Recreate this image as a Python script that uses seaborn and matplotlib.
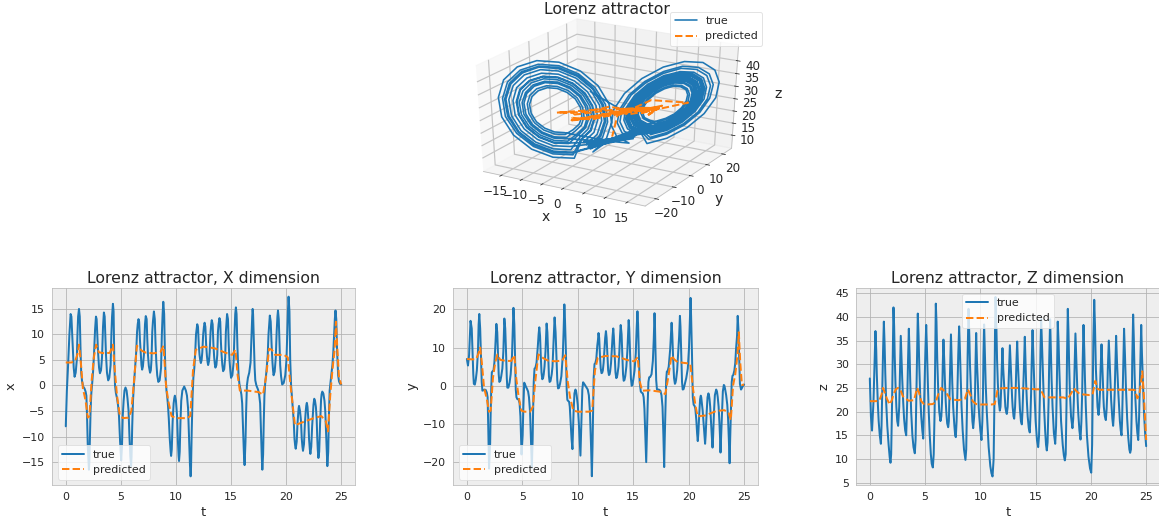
import matplotlib
matplotlib.use('Agg')
import matplotlib.pyplot as plt
import numpy as np
import pandas as pd
import seaborn as sns

# values, one line per oscillation
t_true = [
    0, .1, .2, .33, .44, .51, .58, .63, .72, .8, .9, 1.0,
    1.06, 1.12, 1.2, 1.27, 1.34, 1.4, 1.48, 1.58, 1.7, 1.8, 1.87,
    1.93, 2.0, 2.1, 2.14, 2.2, 2.25, 2.32, 2.4, 2.48, 2.56,
    2.66, 2.74, 2.8, 2.87, 2.93, 3.02, 3.1, 3.2, 3.29,
    3.38, 3.46, 3.53, 3.6, 3.65, 3.74, 3.85, 3.95, 4.07,
    4.14, 4.2, 4.28, 4.34, 4.41, 4.47, 4.55, 4.65, 4.75, 4.83,
    4.93, 5.03, 5.1, 5.17, 5.25, 5.33, 5.42, 5.52, 5.6, 5.7,
    5.78, 5.86, 5.93, 5.97, 6.03, 6.1, 6.18, 6.28, 6.39,
    6.47, 6.53, 6.6, 6.66, 6.73, 6.8, 6.87, 6.93, 7.0, 7.09,
    7.15, 7.19, 7.26, 7.34, 7.4, 7.46, 7.54, 7.65, 7.72, 7.78,
    7.85, 7.91, 8.0, 8.08, 8.15, 8.22, 8.3, 8.4, 8.52, 8.65,
    8.72, 8.79, 8.85, 8.93, 9.0, 9.06, 9.14, 9.22, 9.28, 9.35,
    9.44, 9.52, 9.56, 9.62, 9.7, 9.79, 9.85, 9.9, 10.0, 10.1,
    10.18, 10.24, 10.28, 10.34, 10.41, 10.48, 10.58, 10.75, 10.9, 11.0, 11.1,
    11.2, 11.27, 11.33, 11.37, 11.43, 11.51, 11.58, 11.67, 11.76,
    11.82, 11.87, 11.93, 12.0, 12.07, 12.14, 12.2, 12.26, 12.33, 12.39,
    12.47, 12.54, 12.6, 12.67, 12.74, 12.81, 12.87, 12.92, 13.0, 13.06,
    13.14, 13.2, 13.25, 13.33, 13.4, 13.47, 13.53, 13.58, 13.67, 13.75,
    13.81, 13.87, 13.95, 14.02, 14.08, 14.14, 14.21, 14.28, 14.38, 14.47,
    14.53, 14.59, 14.64, 14.72, 14.79, 14.86, 14.93, 15.0, 15.12, 15.23,
    15.31, 15.38, 15.44, 15.5, 15.58, 15.68, 15.76, 15.86, 15.94, 16.01,
    16.08, 16.17, 16.23, 16.31, 16.37, 16.44, 16.53, 16.65, 16.77,
    16.85, 16.92, 16.96, 17.0, 17.07, 17.14, 17.2, 17.3, 17.45, 17.55, 17.64,
    17.72, 17.79, 17.84, 17.91, 17.97, 18.03, 18.1, 18.2, 18.33,
    18.4, 18.46, 18.52, 18.6, 18.68, 18.76, 18.81, 18.86, 18.96, 19.06,
    19.14, 19.21, 19.26, 19.33, 19.4, 19.46, 19.54, 19.64, 19.78, 19.92, 20.03,
    20.11, 20.17, 20.22, 20.3, 20.37, 20.45, 20.52, 20.6, 20.69,
    20.76, 20.82, 20.87, 20.96, 21.03, 21.09, 21.13, 21.17, 21.26, 21.35,
    21.42, 21.48, 21.53, 21.62, 21.7, 21.78, 21.83, 21.88, 21.94, 22.01,
    22.08, 22.15, 22.2, 22.28, 22.36, 22.48, 22.55, 22.62, 22.7, 22.77,
    22.82, 22.87, 22.93, 23.0, 23.08, 23.17, 23.22, 23.28, 23.38, 23.48, 23.55,
    23.62, 23.69, 23.74, 23.82, 23.88, 23.95, 24.02, 24.12, 24.2, 24.28,
    24.36, 24.42, 24.48, 24.55, 24.62, 24.72, 24.8, 24.9, 25,
]
x_true = [
    -8, -1, 3.5, 10, 14, 13.5, 10, 7, 3.5, 1.7, 2.5, 5,
    10, 13.5, 15, 13.5, 7, 2.5, 0.8, -0.2, -0.6, -1.2, -2,
    -6, -12, -16.5, -15, -9, -5, -1.5, 0.5, 2.8, 6,
    11, 13.5, 13, 9.5, 6.5, 3.5, 2.4, 3, 5.5,
    11.5, 14.3, 13.5, 9, 6, 2.5, 1, 1.5, 4,
    10, 13.5, 16, 14.5, 4, 0, -1.5, -2.5, -4, -6,
    -11, -14.7, -12, -6, -3, -1, -0.4, -1, -2.5, -5,
    -10, -14, -15.8, -14, -8, -3, 0, 3, 6.5,
    10.5, 12, 13, 12.5, 9, 6.5, 4, 3.1, 3.7, 6,
    10, 12, 13.6, 13, 9, 6, 3.8, 2.5, 3, 5,
    10.5, 12.5, 14.5, 13, 8, 4.5, 2, 0.7, 1, 3.5,
    10, 14, 16.4, 14, 6, 1.5, -1, -2.5, -4, -6.5,
    -10.5, -13, -13.8, -12.5, -7, -3.5, -2.5, -2, -3, -6,
    -11, -13.8, -14.8, -13, -7, -3, -1, -0.2, -1, -2, -4.5,
    -11, -15.5, -17.8, -16, -9, -2, 1.5, 3.5, 7,
    10, 11, 12, 11.5, 8, 6, 5, 4.4, 5, 6.5,
    10, 11.5, 12.3, 11.5, 8, 5.8, 4.6, 4, 4.8, 6.5,
    10.5, 12, 12.8, 12, 8, 5.5, 4.2, 3.5, 4, 6,
    10.5, 12, 13.2, 12.5, 8.5, 6, 4, 2.8, 3.2, 5.5,
    10.5, 12.5, 14, 13, 8, 5, 3, 1.5, 2, 4.5,
    10, 14, 15.3, 14, 7.5, 2, 0.3, -0.8, -1.8, -3.5,
    -8, -13.5, -15.6, -11, -5, 0, 1.5, 2.5, 4.5,
    9.5, 13.5, 15, 14, 9, 3.5, 1, 0, -0.8, -1.8, -3.5,
    -9, -14, -16.5, -13.5, -7, -2, 0.5, 2.5, 6,
    10, 12, 13.7, 12.5, 8, 4.5, 3, 2, 2.7, 5.5,
    10.5, 13.5, 14.7, 13, 8, 4, 1.8, 0.2, 0.5, 2, 5,
    11, 15, 17.4, 14.5, 5, 0, -2, -4, -7,
    -10.5, -11.8, -12.4, -11, -7.5, -5.5, -4.5, -4, -5, -7,
    -10.5, -12, -12.8, -11.5, -7.5, -5, -3.9, -3.4, -4.2, -6.5,
    -10.5, -12.5, -13.4, -12, -8, -3.8, -2.6, -3, -4.2, -6.5,
    -10, -12.5, -14.2, -13, -7.5, -2.8, -1.7, -1.2, -1.6, -3, -5,
    -9, -13.5, -15.8, -13, -6, -1, 0.5, 2.5, 4, 6.5,
    10, 13, 14.7, 13, 7, 2, 0.8, 0.3, 0.2,
]
y_true = [
    7, 5.3, 8, 17, 15, 9, 3, 0.5, 0.3, 1.5, 4, 9,
    16, 18.8, 15, 8, 1, -1.3, -1.2, -1, -1.1, -1.8, -3,
    -11, -21.7, -15, -8, -0.5, 3.5, 3.8, 4, 6, 10,
    16.2, 14, 9, 3, 1, 1.3, 2.5, 4.5, 9,
    17.6, 15, 9, 2, -0.5, -0.5, 0.8, 3, 8,
    15, 20.4, 16, 8, -1, -3, -3.5, -3.5, -4.5, -8,
    -18, -13, -5, 0.8, 0.3, -0.3, -0.8, -1.5, -3, -7,
    -14, -21.5, -14, -7, 1, 4.5, 4.7, 6, 10,
    13.5, 15.3, 13, 8, 3.5, 1.7, 2, 3, 5, 9,
    13, 16.3, 14, 7, 2.5, 1, 1.2, 3, 5, 9,
    13, 17.9, 14, 7, 1.5, -0.7, -0.6, 0.5, 2.5, 8,
    14, 21.3, 17, 9, -1, -3.7, -4, -4.2, -5.5, -9,
    -14, -16.6, -13, -7, -2, -1, -1.5, -2.5, -5, -10,
    -15, -18.3, -14, -7, -1, 0.9, 0.5, -0.3, -1, -2.5, -7,
    -16, -23.7, -16, -8, 2, 5.7, 5.9, 7, 10.5,
    12, 13.8, 12.5, 8, 4.5, 3.3, 3.4, 4, 6, 9,
    12.5, 14.3, 12.5, 8, 4, 2.8, 3, 3.8, 6, 9,
    13, 15, 13, 8, 3.5, 2, 2.2, 3, 5, 9,
    13, 15.9, 13.5, 8, 3, 1.3, 1.5, 2.5, 5, 9,
    13, 17.2, 15, 8, 2, 0, 0.3, 1.5, 4, 8.5,
    15, 19.5, 16, 9, 1, -1.5, -1.8, -2, -3, -6,
    -12, -20, -13, -4, 1, 2.2, 2.3, 3, 6.5,
    12, 19, 16, 10, 1.5, -1, -1, -1, -1.3, -2.5, -5.5,
    -13, -21.3, -14, -6, 1.5, 3.7, 3.8, 5, 9.5,
    13, 16.5, 13.5, 7, 2, 0.5, 0.8, 1.5, 4, 9,
    13, 18.3, 15.5, 8, 1, -1, -0.9, 0.3, 2, 4.5, 10,
    17, 23, 18, 8, -3, -5, -5.2, -6, -9,
    -12.5, -14.5, -12.5, -7, -3.5, -2.6, -3, -4, -6.5, -10,
    -12.5, -15.2, -13, -7, -3, -2, -2.5, -3.5, -5.5, -9.5,
    -13, -16.2, -13.5, -7, -2.5, -1, -1.5, -3, -5.5, -9.5,
    -13, -17.5, -13, -7, -1.5, 0.2, 0, -0.8, -2.5, -5, -8.5,
    -14, -20.3, -14, -6, 1, 2.6, 2.8, 4, 6, 10,
    13, 18.3, 15, 8, 0.5, -1, -0.6, 0, 0.3,
]
z_true = [
    27, 19, 16, 22, 31, 37, 33, 28, 22, 18, 15, 13.2,
    17, 24, 33, 39, 34, 28, 22, 17, 13, 10.3, 9.2,
    11, 20, 36, 42, 38, 32, 26, 21, 18, 17,
    21, 30, 36, 31, 27, 22, 18.5, 16, 15,
    22, 31, 37.5, 32, 27, 20, 15, 12.5, 11.2,
    14, 22, 34, 40.7, 36, 30, 24, 19, 16, 14.3,
    24, 33, 38.3, 33, 26, 20, 15, 11, 9, 8.2,
    11, 20, 35, 42.8, 39, 31, 25, 20, 18,
    19, 22, 30, 35.2, 31, 26, 22, 19.5, 17.5, 16.7,
    18, 22, 30, 36.3, 31, 26, 21, 17, 15, 14.6,
    18, 23, 32, 38, 33, 27, 21, 16, 12, 9.8,
    12, 21, 32, 41.7, 36, 30, 25, 21, 18, 16.5,
    19, 24, 30, 36.6, 30, 25, 21, 19, 16, 14,
    18, 24, 32, 38.4, 32, 26, 20, 12.5, 8.5, 7, 6.3,
    10, 22, 38, 44.2, 40, 31, 26, 22, 20.2,
    21, 24, 29, 33.4, 29, 26, 23, 21, 20, 19.5,
    21, 25, 29.5, 34, 30, 26, 23, 21, 19, 18.5,
    21, 25, 29.5, 34.8, 30, 26, 23, 20.5, 18, 17.3,
    20, 24, 30, 35.8, 31, 26, 22, 19, 16.5, 15.6,
    19, 24, 30, 37.2, 32, 27, 22, 18, 14, 12.5,
    15, 23, 33, 39.5, 34, 27, 21, 16, 13, 11.8,
    13.5, 22, 31, 39.5, 34, 27, 21, 15.5, 13.2,
    17, 26, 33, 39, 35, 29, 25, 18, 13, 10.8, 9.7,
    11, 21, 32, 41.7, 37, 30, 24, 19, 16.5,
    18.5, 22.5, 29, 36.5, 31, 25, 22, 19.5, 16, 14.1,
    18, 24, 31, 38.3, 33, 27, 21, 15, 10.5, 8, 7.1,
    13, 24, 35, 43.6, 38, 29, 25, 21, 19.3,
    21, 24, 28.5, 34.2, 30, 26, 23, 21, 19, 18.2,
    20.5, 24, 29, 35, 30, 25.5, 22.5, 20.5, 18.5, 17,
    19.5, 24, 29, 36, 30.5, 24, 21, 18, 16, 15,
    18, 23, 30, 37.5, 32, 25, 22, 18.5, 14.5, 12, 11.3,
    12, 20, 31, 40.5, 35.5, 28, 23, 18, 15.5, 14,
    19, 25, 32, 38.3, 32, 25, 20, 15.5, 12.7,
]

t_pred = [0, .5, .85, 1.05, 1.2, 1.35, 1.55, 1.8, 2.0, 2.15, 2.35, 2.55, 2.75, 3.0, 3.5, 4.0,
          4.28, 4.45, 4.65, 4.9, 5.2, 5.7, 5.95, 6.2, 6.45, 6.9, 7.3, 8.0, 8.6, 8.87, 9.1, 9.3,
          9.6, 10, 11, 11.3, 11.55, 11.8, 12.5, 13.5, 14.5, 15.1, 15.4, 15.6, 15.8, 16.5, 17.5, 17.9,
          18.2, 18.45, 18.7, 19, 19.8, 20.15, 20.4, 20.6, 20.8, 21.5, 22.5, 23.2, 23.6, 23.8,
          24.0, 24.2, 24.4, 24.52, 24.65, 24.8, 25]
x_pred = [4.5, 4.5, 4.8, 6, 8, 5, -0.5, -3, -6.3, -6, 1, 5.5, 8, 6.5, 6.3, 6.4,
          8, 3, -2, -5.8, -6.4, -6.3, -5, 1, 7.8, 6.8, 6.4, 6.3, 6.6, 7.8, 0, -3,
          -6, -6.4, -6.4, -6, 3, 7, 7.6, 7.3, 6.4, 6, 7, 2, -1, -1, -1.3, -1.8,
          2, 7.2, 7, 6, 6, 5.5, 0, -4, -7.8, -7.2, -6.4, -6, -7, -9,
          -2, 3, 7, 12.5, 7, 1.5, 0.2]
y_pred = [7, 6.9, 7, 8.5, 10, 6, -0.5, -3.5, -6.8, -6.5, 2, 6, 8.2, 6.8, 6.5, 6.5,
          8, 2, -2.5, -6.5, -6.8, -6.8, -5.5, 2, 8.2, 7.2, 6.6, 6.4, 6.6, 8, 1, -3,
          -6.5, -6.8, -6.8, -6.5, 4, 7.3, 7.8, 7.7, 6.7, 6.4, 7.5, 1, -1.3, -1.2, -1.6, -2.2,
          3, 7.9, 6.9, 6.2, 5.9, 5.7, -1, -5, -8, -7.8, -6.6, -6.4, -7, -9,
          0, 3, 8, 14, 6, 0.2, 0.3]
z_pred = [22.2, 22.2, 22.3, 23.5, 25, 24, 22.7, 21.5, 22.5, 23.7, 24.7, 25, 24.7, 23.2, 22.3, 22.4,
          25, 24, 22.2, 21.6, 21.5, 21.6, 22, 23.7, 25, 24, 22.6, 22.4, 22.7, 24.7, 23.5, 22.2,
          21.6, 21.5, 21.5, 21.6, 24.5, 24.9, 25, 25, 24.8, 24.7, 24.7, 24, 23, 23, 23, 22.7,
          23.8, 24.9, 24.3, 23.7, 23.5, 23.6, 26.5, 24.8, 24.6, 24.6, 24.6, 24.6, 24.6, 24.6,
          24.5, 22.8, 23.8, 26, 28.5, 23, 14]

# the 3d picture is a denser trace, one line per turn around a lobe
x_orbit = [
    -8,
    6.1, 8, 10, 11.9, 13.2, 13.8, 13.7, 12.8, 11.3, 9.4, 7.4, 5.5, 4.2, 3.6, 3.7, 4.6,
    5.7, 7.9, 10.3, 12.4, 14, 14.7, 14.6, 13.5, 11.7, 9.5, 7.1, 5, 3.4, 2.7, 2.8, 3.9,
    0.4,
    -5, -7.7, -10.7, -13.3, -15.3, -16.2, -16, -14.7, -12.4, -9.7, -6.7, -4.1, -2.1, -1.2, -1.4, -2.7,
    -0.2,
    6.3, 8.1, 9.9, 11.6, 12.8, 13.4, 13.3, 12.5, 11.1, 9.3, 7.5, 5.8, 4.6, 4, 4.1, 4.9,
    6, 8, 10.1, 12, 13.4, 14.1, 13.9, 13, 11.4, 9.4, 7.3, 5.4, 4, 3.3, 3.5, 4.4,
    5.3, 7.8, 10.5, 13, 14.8, 15.6, 15.4, 14.2, 12.1, 9.6, 6.9, 4.4, 2.6, 1.8, 2, 3.2,
    0.3,
    -5.8, -8, -10.2, -12.2, -13.7, -14.4, -14.3, -13.3, -11.6, -9.4, -7.2, -5.2, -3.7, -3, -3.1, -4.1,
    -4.8, -7.7, -10.7, -13.5, -15.6, -16.5, -16.3, -14.9, -12.6, -9.7, -6.7, -3.9, -1.8, -0.9, -1.1, -2.5,
    0.2,
    6.6, 8.1, 9.8, 11.4, 12.5, 13, 12.9, 12.1, 10.8, 9.3, 7.6, 6, 4.9, 4.4, 4.5, 5.3,
    6.3, 8.1, 10, 11.7, 12.9, 13.5, 13.4, 12.5, 11.1, 9.3, 7.4, 5.7, 4.5, 3.9, 4, 4.9,
    5.9, 8, 10.2, 12.2, 13.7, 14.3, 14.2, 13.2, 11.5, 9.4, 7.2, 5.2, 3.7, 3.1, 3.2, 4.2,
    5, 7.7, 10.6, 13.2, 15.1, 16, 15.8, 14.5, 12.4, 9.7, 6.8, 4.2, 2.3, 1.4, 1.6, 2.9,
    0.3,
    -6.2, -8.1, -10, -11.8, -13.1, -13.7, -13.5, -12.7, -11.2, -9.3, -7.4, -5.6, -4.3, -3.7, -3.9, -4.7,
    -5.8, -7.9, -10.2, -12.3, -13.8, -14.5, -14.4, -13.3, -11.6, -9.5, -7.2, -5.1, -3.6, -2.9, -3, -4.1,
    -4.5, -7.6, -10.9, -13.9, -16.1, -17.1, -16.9, -15.4, -12.9, -9.8, -6.5, -3.5, -1.3, -0.3, -0.5, -2,
    -0.1,
    7, 8.2, 9.6, 10.8, 11.7, 12.1, 12.1, 11.4, 10.4, 9.2, 7.8, 6.6, 5.7, 5.3, 5.3, 6,
    6.9, 8.2, 9.7, 11, 12, 12.4, 12.3, 11.6, 10.5, 9.2, 7.7, 6.4, 5.4, 5, 5.1, 5.8,
    6.6, 8.2, 9.8, 11.2, 12.3, 12.8, 12.7, 12, 10.8, 9.2, 7.6, 6.2, 5.1, 4.6, 4.7, 5.4,
    6.4, 8.1, 9.9, 11.5, 12.7, 13.2, 13.1, 12.3, 11, 9.3, 7.5, 5.9, 4.7, 4.2, 4.3, 5.1,
    6.1, 8, 10.1, 11.9, 13.3, 13.9, 13.8, 12.9, 11.3, 9.4, 7.3, 5.5, 4.1, 3.5, 3.6, 4.5,
    5.5, 7.9, 10.4, 12.6, 14.3, 15, 14.9, 13.7, 11.9, 9.5, 7, 4.8, 3.1, 2.4, 2.5, 3.7,
    0.4,
    -5.5, -7.9, -10.4, -12.6, -14.3, -15, -14.9, -13.7, -11.9, -9.5, -7, -4.8, -3.1, -2.4, -2.5, -3.7,
    -0.3,
    5.8, 7.9, 10.2, 12.3, 13.9, 14.6, 14.4, 13.4, 11.6, 9.5, 7.2, 5.1, 3.5, 2.8, 3, 4,
    0.3,
    -5, -7.7, -10.6, -13.2, -15.1, -16, -15.8, -14.5, -12.4, -9.7, -6.8, -4.2, -2.3, -1.4, -1.6, -2.9,
    0.2,
    6.3, 8.1, 10, 11.7, 13, 13.6, 13.5, 12.6, 11.1, 9.3, 7.4, 5.7, 4.4, 3.8, 3.9, 4.8,
    5.8, 8, 10.2, 12.2, 13.7, 14.4, 14.3, 13.3, 11.6, 9.4, 7.2, 5.2, 3.7, 3, 3.1, 4.1,
    4.6, 7.6, 10.9, 13.8, 16, 16.9, 16.7, 15.3, 12.8, 9.8, 6.5, 3.6, 1.4, 0.5, 0.7, 2.1,
    0.1,
    -6.8, -8.2, -9.7, -11.1, -12.1, -12.6, -12.5, -11.8, -10.6, -9.2, -7.7, -6.3, -5.3, -4.8, -4.9, -5.6,
    -6.6, -8.1, -9.8, -11.3, -12.4, -12.9, -12.8, -12.1, -10.8, -9.3, -7.6, -6.1, -5, -4.5, -4.6, -5.3,
    -6.3, -8.1, -9.9, -11.6, -12.8, -13.4, -13.3, -12.5, -11.1, -9.3, -7.5, -5.8, -4.6, -4, -4.1, -4.9,
    -6, -8, -10.1, -12, -13.4, -14.1, -13.9, -13, -11.4, -9.4, -7.3, -5.4, -4, -3.3, -3.5, -4.4,
    -5.3, -7.8, -10.5, -13, -14.8, -15.6, -15.4, -14.2, -12.1, -9.6, -6.9, -4.4, -2.6, -1.8, -2, -3.2,
    -0.2,
    5.8, 8, 10.2, 12.2, 13.7, 14.4, 14.3, 13.3, 11.6, 9.4, 7.2, 5.2, 3.7, 3, 3.1, 4.1,
    0.2,
]
y_orbit = [
    7,
    10, 12.8, 15.2, 16.8, 17.3, 16.8, 15.2, 12.8, 10, 7.2, 4.8, 3.2, 2.7, 3.2, 4.8, 7.2,
    10, 13.3, 16.1, 18, 18.6, 18, 16.1, 13.3, 10, 6.7, 3.9, 2, 1.4, 2, 3.9, 6.7,
    0.2,
    -10, -14.1, -17.6, -19.9, -20.7, -19.9, -17.6, -14.1, -10, -5.9, -2.4, -0.1, 0.7, -0.1, -2.4, -5.9,
    0.1,
    10, 12.6, 14.8, 16.2, 16.7, 16.2, 14.8, 12.6, 10, 7.4, 5.2, 3.8, 3.3, 3.8, 5.2, 7.4,
    10, 12.9, 15.4, 17.1, 17.7, 17.1, 15.4, 12.9, 10, 7.1, 4.6, 2.9, 2.3, 2.9, 4.6, 7.1,
    10, 13.8, 17, 19.1, 19.8, 19.1, 17, 13.8, 10, 6.2, 3, 0.9, 0.2, 0.9, 3, 6.2,
    0.2,
    -10, -13.1, -15.8, -17.5, -18.2, -17.5, -15.8, -13.1, -10, -6.9, -4.2, -2.5, -1.8, -2.5, -4.2, -6.9,
    -10, -14.3, -17.9, -20.3, -21.2, -20.3, -17.9, -14.3, -10, -5.7, -2.1, 0.3, 1.2, 0.3, -2.1, -5.7,
    0.1,
    10, 12.3, 14.3, 15.7, 16.1, 15.7, 14.3, 12.3, 10, 7.7, 5.7, 4.3, 3.9, 4.3, 5.7, 7.7,
    10, 12.6, 14.8, 16.3, 16.8, 16.3, 14.8, 12.6, 10, 7.4, 5.2, 3.7, 3.2, 3.7, 5.2, 7.4,
    10, 13.1, 15.7, 17.4, 18, 17.4, 15.7, 13.1, 10, 6.9, 4.3, 2.6, 2, 2.6, 4.3, 6.9,
    10, 14, 17.4, 19.7, 20.4, 19.7, 17.4, 14, 10, 6, 2.6, 0.3, -0.4, 0.3, 2.6, 6,
    0.2,
    -10, -12.7, -15, -16.5, -17.1, -16.5, -15, -12.7, -10, -7.3, -5, -3.5, -2.9, -3.5, -5, -7.3,
    -10, -13.2, -15.9, -17.7, -18.3, -17.7, -15.9, -13.2, -10, -6.8, -4.1, -2.3, -1.7, -2.3, -4.1, -6.8,
    -10, -14.6, -18.5, -21.1, -22, -21.1, -18.5, -14.6, -10, -5.4, -1.5, 1.1, 2, 1.1, -1.5, -5.4,
    0.1,
    10, 11.9, 13.5, 14.6, 14.9, 14.6, 13.5, 11.9, 10, 8.1, 6.5, 5.4, 5.1, 5.4, 6.5, 8.1,
    10, 12, 13.7, 14.9, 15.3, 14.9, 13.7, 12, 10, 8, 6.3, 5.1, 4.7, 5.1, 6.3, 8,
    10, 12.3, 14.2, 15.4, 15.9, 15.4, 14.2, 12.3, 10, 7.7, 5.8, 4.6, 4.1, 4.6, 5.8, 7.7,
    10, 12.5, 14.6, 16, 16.5, 16, 14.6, 12.5, 10, 7.5, 5.4, 4, 3.5, 4, 5.4, 7.5,
    10, 12.9, 15.3, 16.9, 17.4, 16.9, 15.3, 12.9, 10, 7.1, 4.7, 3.1, 2.6, 3.1, 4.7, 7.1,
    10, 13.5, 16.4, 18.3, 19, 18.3, 16.4, 13.5, 10, 6.5, 3.6, 1.7, 1, 1.7, 3.6, 6.5,
    0.2,
    -10, -13.5, -16.4, -18.3, -19, -18.3, -16.4, -13.5, -10, -6.5, -3.6, -1.7, -1, -1.7, -3.6, -6.5,
    0.1,
    10, 13.2, 16, 17.8, 18.4, 17.8, 16, 13.2, 10, 6.8, 4, 2.2, 1.6, 2.2, 4, 6.8,
    0.1,
    -10, -14, -17.4, -19.7, -20.4, -19.7, -17.4, -14, -10, -6, -2.6, -0.3, 0.4, -0.3, -2.6, -6,
    0.2,
    10, 12.7, 14.9, 16.4, 17, 16.4, 14.9, 12.7, 10, 7.3, 5.1, 3.6, 3, 3.6, 5.1, 7.3,
    10, 13.1, 15.8, 17.5, 18.2, 17.5, 15.8, 13.1, 10, 6.9, 4.2, 2.5, 1.8, 2.5, 4.2, 6.9,
    10, 14.5, 18.3, 20.9, 21.8, 20.9, 18.3, 14.5, 10, 5.5, 1.7, -0.9, -1.8, -0.9, 1.7, 5.5,
    0.2,
    -10, -12.1, -13.9, -15.1, -15.5, -15.1, -13.9, -12.1, -10, -7.9, -6.1, -4.9, -4.5, -4.9, -6.1, -7.9,
    -10, -12.3, -14.3, -15.6, -16, -15.6, -14.3, -12.3, -10, -7.7, -5.7, -4.4, -4, -4.4, -5.7, -7.7,
    -10, -12.6, -14.8, -16.2, -16.7, -16.2, -14.8, -12.6, -10, -7.4, -5.2, -3.8, -3.3, -3.8, -5.2, -7.4,
    -10, -12.9, -15.4, -17.1, -17.7, -17.1, -15.4, -12.9, -10, -7.1, -4.6, -2.9, -2.3, -2.9, -4.6, -7.1,
    -10, -13.8, -17, -19.1, -19.8, -19.1, -17, -13.8, -10, -6.2, -3, -0.9, -0.2, -0.9, -3, -6.2,
    0.1,
    10, 13.1, 15.8, 17.5, 18.2, 17.5, 15.8, 13.1, 10, 6.9, 4.2, 2.5, 1.8, 2.5, 4.2, 6.9,
    0.3,
]
z_orbit = [
    27,
    15, 15.9, 18.3, 21.8, 26, 30.2, 33.7, 36.1, 37, 36.1, 33.7, 30.2, 26, 21.8, 18.3, 15.9,
    13, 14, 16.9, 21, 26, 31, 35.1, 38, 39, 38, 35.1, 31, 26, 21, 16.9, 14,
    12,
    10, 11.2, 14.7, 19.9, 26, 32.1, 37.3, 40.8, 42, 40.8, 37.3, 32.1, 26, 19.9, 14.7, 11.2,
    13,
    15.9, 16.7, 18.9, 22.1, 26, 29.9, 33.1, 35.3, 36.1, 35.3, 33.1, 29.9, 26, 22.1, 18.9, 16.7,
    14.5, 15.4, 17.9, 21.6, 26, 30.4, 34.1, 36.6, 37.5, 36.6, 34.1, 30.4, 26, 21.6, 17.9, 15.4,
    11.2, 12.4, 15.6, 20.3, 26, 31.7, 36.4, 39.6, 40.8, 39.6, 36.4, 31.7, 26, 20.3, 15.6, 12.4,
    12,
    13.8, 14.7, 17.4, 21.3, 26, 30.7, 34.6, 37.3, 38.2, 37.3, 34.6, 30.7, 26, 21.3, 17.4, 14.7,
    9.3, 10.6, 14.2, 19.6, 26, 32.4, 37.8, 41.4, 42.7, 41.4, 37.8, 32.4, 26, 19.6, 14.2, 10.6,
    13,
    16.8, 17.5, 19.5, 22.5, 26, 29.5, 32.5, 34.5, 35.2, 34.5, 32.5, 29.5, 26, 22.5, 19.5, 17.5,
    15.7, 16.5, 18.8, 22.1, 26, 29.9, 33.2, 35.5, 36.3, 35.5, 33.2, 29.9, 26, 22.1, 18.8, 16.5,
    13.9, 14.9, 17.5, 21.4, 26, 30.6, 34.5, 37.1, 38.1, 37.1, 34.5, 30.6, 26, 21.4, 17.5, 14.9,
    10.3, 11.6, 15, 20, 26, 32, 37, 40.4, 41.7, 40.4, 37, 32, 26, 20, 15, 11.6,
    12,
    15.4, 16.2, 18.5, 21.9, 26, 30.1, 33.5, 35.8, 36.6, 35.8, 33.5, 30.1, 26, 21.9, 18.5, 16.2,
    13.6, 14.5, 17.2, 21.2, 26, 30.8, 34.8, 37.5, 38.4, 37.5, 34.8, 30.8, 26, 21.2, 17.2, 14.5,
    8, 9.4, 13.3, 19.1, 26, 32.9, 38.7, 42.6, 44, 42.6, 38.7, 32.9, 26, 19.1, 13.3, 9.4,
    13,
    18.6, 19.2, 20.8, 23.2, 26, 28.8, 31.2, 32.8, 33.4, 32.8, 31.2, 28.8, 26, 23.2, 20.8, 19.2,
    18.1, 18.7, 20.4, 23, 26, 29, 31.6, 33.3, 33.9, 33.3, 31.6, 29, 26, 23, 20.4, 18.7,
    17.2, 17.9, 19.8, 22.6, 26, 29.4, 32.2, 34.1, 34.8, 34.1, 32.2, 29.4, 26, 22.6, 19.8, 17.9,
    16.3, 17, 19.1, 22.3, 26, 29.7, 32.9, 35, 35.7, 35, 32.9, 29.7, 26, 22.3, 19.1, 17,
    14.8, 15.7, 18.1, 21.7, 26, 30.3, 33.9, 36.3, 37.2, 36.3, 33.9, 30.3, 26, 21.7, 18.1, 15.7,
    12.5, 13.5, 16.5, 20.8, 26, 31.2, 35.5, 38.5, 39.5, 38.5, 35.5, 31.2, 26, 20.8, 16.5, 13.5,
    12,
    12.5, 13.5, 16.5, 20.8, 26, 31.2, 35.5, 38.5, 39.5, 38.5, 35.5, 31.2, 26, 20.8, 16.5, 13.5,
    13,
    13.4, 14.4, 17.1, 21.2, 26, 30.8, 34.9, 37.6, 38.6, 37.6, 34.9, 30.8, 26, 21.2, 17.1, 14.4,
    12,
    10.3, 11.6, 15, 20, 26, 32, 37, 40.4, 41.7, 40.4, 37, 32, 26, 20, 15, 11.6,
    13,
    15.6, 16.4, 18.6, 22, 26, 30, 33.4, 35.6, 36.4, 35.6, 33.4, 30, 26, 22, 18.6, 16.4,
    13.8, 14.7, 17.4, 21.3, 26, 30.7, 34.6, 37.3, 38.2, 37.3, 34.6, 30.7, 26, 21.3, 17.4, 14.7,
    8.4, 9.7, 13.6, 19.2, 26, 32.8, 38.4, 42.3, 43.6, 42.3, 38.4, 32.8, 26, 19.2, 13.6, 9.7,
    12,
    17.7, 18.4, 20.2, 22.8, 26, 29.2, 31.8, 33.6, 34.3, 33.6, 31.8, 29.2, 26, 22.8, 20.2, 18.4,
    17, 17.7, 19.6, 22.5, 26, 29.5, 32.4, 34.3, 35, 34.3, 32.4, 29.5, 26, 22.5, 19.6, 17.7,
    15.9, 16.7, 18.9, 22.1, 26, 29.9, 33.1, 35.3, 36.1, 35.3, 33.1, 29.9, 26, 22.1, 18.9, 16.7,
    14.5, 15.4, 17.9, 21.6, 26, 30.4, 34.1, 36.6, 37.5, 36.6, 34.1, 30.4, 26, 21.6, 17.9, 15.4,
    11.2, 12.4, 15.6, 20.3, 26, 31.7, 36.4, 39.6, 40.8, 39.6, 36.4, 31.7, 26, 20.3, 15.6, 12.4,
    13,
    13.8, 14.7, 17.4, 21.3, 26, 30.7, 34.6, 37.3, 38.2, 37.3, 34.6, 30.7, 26, 21.3, 17.4, 14.7,
    12.7,
]

x_ticks_3d = [-15, -10, -5, 0, 5, 10, 15]
y_ticks_3d = [-20, -10, 0, 10, 20]
z_ticks_3d = [10, 15, 20, 25, 30, 35, 40]
t_ticks = [0, 5, 10, 15, 20, 25]
x_ticks = [-15, -10, -5, 0, 5, 10, 15]
y_ticks = [-20, -10, 0, 10, 20]
z_ticks = [5, 10, 15, 20, 25, 30, 35, 40, 45]

WIDTH = 1159
HEIGHT = 521
DPI = 72

sns.set_style('darkgrid', rc={
    'axes.facecolor': '#eeeeee',
    'axes.edgecolor': '#bcbcbc',
    'axes.linewidth': 1.3,
    'grid.color': '#b2b2b2',
    'grid.linewidth': 1.6,
    'text.color': '#262626',
    'axes.labelcolor': '#262626',
    'xtick.color': '#262626',
    'ytick.color': '#262626',
})
plt.rcParams['font.family'] = ['DejaVu Sans']
plt.rcParams['font.size'] = 11

true_color = '#1f77b4'
pred_color = '#ff7f0e'


def px_rect(left, right, top, bottom):
    return [left / WIDTH, 1 - bottom / HEIGHT, (right - left) / WIDTH, (bottom - top) / HEIGHT]


def dimension_plot(fig, rect, name, true_vals, pred_vals, ylim, yticks, legend_loc):
    ax = fig.add_axes(rect)
    true_df = pd.DataFrame({'t': t_true, 'v': true_vals})
    pred_df = pd.DataFrame({'t': t_pred, 'v': pred_vals})
    sns.lineplot(data=true_df, x='t', y='v', ax=ax, color=true_color, lw=2.0, label='true',
                 errorbar=None, sort=False)
    sns.lineplot(data=pred_df, x='t', y='v', ax=ax, color=pred_color, lw=2.0, ls='--', label='predicted',
                 errorbar=None, sort=False)
    ax.set_xlim(-1.25, 26.25)
    ax.set_ylim(*ylim)
    ax.set_xticks(t_ticks)
    ax.set_yticks(yticks)
    ax.set_xlabel('t', fontsize=13)
    ax.set_ylabel(name.lower(), fontsize=13)
    ax.set_title('Lorenz attractor, {} dimension'.format(name), fontsize=15.7, pad=5)
    ax.tick_params(labelsize=11)
    ax.legend(loc=legend_loc, fontsize=11, frameon=True, facecolor='white', edgecolor='#dddddd',
              framealpha=0.8)
    return ax


fig = plt.figure(figsize=(WIDTH / DPI, HEIGHT / DPI), dpi=DPI, facecolor='white')

# 3d trajectory on top, stretched to fill the non square axes
ax3d = fig.add_axes(px_rect(453, 758, 13, 210), projection='3d')
ax3d.apply_aspect = lambda position=None: None
ax3d.plot(x_orbit, y_orbit, z_orbit, color=true_color, lw=1.6, label='true')
ax3d.plot(x_pred, y_pred, z_pred, color=pred_color, lw=2.0, ls='--', label='predicted')
ax3d.set_box_aspect((1, 1, 1), zoom=1.03)
ax3d.set_xlim(-19.5, 19.1)
ax3d.set_ylim(-26, 25.6)
ax3d.set_zlim(4.5, 46.1)
ax3d.set_facecolor('white')
ax3d.set_xticks(x_ticks_3d)
ax3d.set_yticks(y_ticks_3d)
ax3d.set_zticks(z_ticks_3d)
ax3d.set_xlabel('x', fontsize=14, labelpad=2)
ax3d.set_ylabel('y', fontsize=14, labelpad=2)
ax3d.set_zlabel('z', fontsize=14, labelpad=2)
ax3d.tick_params(labelsize=12, pad=0)
for axis in [ax3d.xaxis, ax3d.yaxis, ax3d.zaxis]:
    axis._axinfo['grid'].update(color='#c4c4c4', linewidth=1.2)
fig.text(607 / WIDTH, 1 - 9 / HEIGHT, 'Lorenz attractor', fontsize=15.7, ha='center', va='center')
ax3d.legend(loc='upper right', bbox_to_anchor=(768 / WIDTH, 1 - 6 / HEIGHT),
            bbox_transform=fig.transFigure, fontsize=11, frameon=True, facecolor='white',
            edgecolor='#dddddd', framealpha=0.8)

dimension_plot(fig, px_rect(52, 355, 288, 485), 'X', x_true, x_pred, (-19.5, 19.1), x_ticks, 'lower left')
dimension_plot(fig, px_rect(453, 758, 288, 485), 'Y', y_true, y_pred, (-26, 25.6), y_ticks, 'lower left')
dimension_plot(fig, px_rect(856, 1160, 288, 485), 'Z', z_true, z_pred, (4.5, 46.1), z_ticks, 'upper center')

fig.savefig('out.png', dpi=DPI)
